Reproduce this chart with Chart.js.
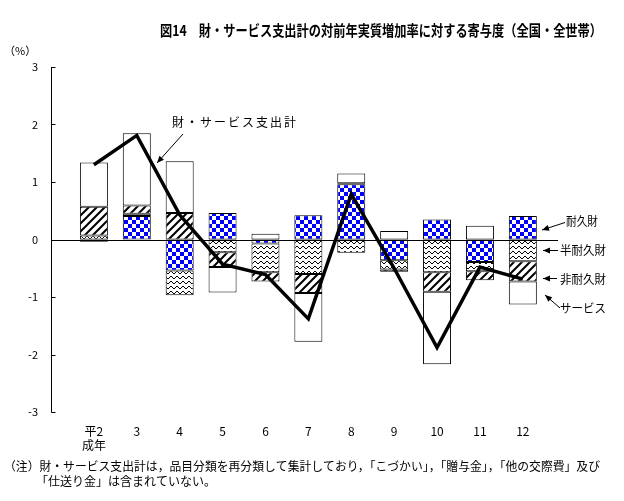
<!DOCTYPE html>
<html><head><meta charset="utf-8">
<script src="https://cdn.jsdelivr.net/npm/chart.js@4/dist/chart.umd.min.js"></script>
<style>html,body{margin:0;padding:0;background:#fff}canvas{display:block}</style>
</head><body>
<canvas id="c" width="624" height="501"></canvas>
<script>
// ---- data ----
const categories = [['平2','成年'],'3','4','5','6','7','8','9','10','11','12'];
const durable    = [-0.04, 0.41, -0.54,  0.46, -0.07,  0.42,  0.96, -0.36,  0.35, -0.39,  0.41]; // 耐久財
const semiDurable= [ 0.07, 0.04, -0.43, -0.22, -0.50, -0.60, -0.23, -0.16, -0.57, -0.16, -0.38]; // 半耐久財
const nonDurable = [ 0.50, 0.14,  0.46, -0.26, -0.16, -0.33,  0.02, -0.04, -0.34, -0.16, -0.35]; // 非耐久財
const services   = [ 0.77, 1.26,  0.90, -0.44,  0.10, -0.85,  0.17,  0.15, -1.26,  0.24, -0.40]; // サービス
const totalLine  = [ 1.30, 1.81,  0.43, -0.43, -0.61, -1.38,  0.79, -0.50, -1.88, -0.48, -0.69]; // 財・サービス支出計
const yTicks = [3,2,1,0,-1,-2,-3];

const JP = '"Noto Sans CJK JP","Noto Sans",sans-serif';

// ---- patterns ----
function mk(w,h,draw){const c=document.createElement('canvas');c.width=w;c.height=h;const x=c.getContext('2d');x.fillStyle='#fff';x.fillRect(0,0,w,h);draw(x);return document.getElementById('c').getContext('2d').createPattern(c,'repeat');}
const checker = mk(8,8,x=>{x.fillStyle='#0000ff';x.fillRect(0,0,4,4);x.fillRect(4,4,4,4);});
const wavy = mk(6,5,x=>{x.fillStyle='#000';[[0,3],[1,2],[2,1],[3,1],[4,2],[5,3]].forEach(p=>x.fillRect(p[0],p[1],1,1));});
const hatch = mk(8,8,x=>{x.strokeStyle='#000';x.lineWidth=2;x.beginPath();x.moveTo(-1,9);x.lineTo(9,-1);x.moveTo(-1,1);x.lineTo(1,-1);x.moveTo(7,9);x.lineTo(9,7);x.stroke();});

const pts = arr => arr.map((v,i)=>({x:i+1,y:v}));
const barDs = (label,arr,bg)=>({type:'bar',label,data:pts(arr),backgroundColor:bg,borderColor:'#000',borderWidth:1,borderSkipped:false,order:2,stack:'s',barPercentage:0.816,categoryPercentage:0.8});

function arrow(ctx,x1,y1,x2,y2){
  ctx.beginPath();ctx.moveTo(x1,y1);ctx.lineTo(x2,y2);ctx.lineWidth=1;ctx.strokeStyle='#000';ctx.stroke();
  const a=Math.atan2(y2-y1,x2-x1),L=7,W=3;
  ctx.beginPath();ctx.moveTo(x2,y2);
  ctx.lineTo(x2-L*Math.cos(a)+W*Math.sin(a),y2-L*Math.sin(a)-W*Math.cos(a));
  ctx.lineTo(x2-L*Math.cos(a)-W*Math.sin(a),y2-L*Math.sin(a)+W*Math.cos(a));
  ctx.closePath();ctx.fillStyle='#000';ctx.fill();
}

const deco = {
  id:'deco',
  afterDraw(chart){
    const {ctx,chartArea:a,scales:{y}}=chart;
    ctx.save();
    ctx.fillStyle='#000';ctx.strokeStyle='#000';ctx.lineWidth=1;
    // zero line
    const y0=Math.round(y.getPixelForValue(0))+0.5;
    ctx.beginPath();ctx.moveTo(a.left,y0);ctx.lineTo(a.right,y0);ctx.stroke();
    // y axis line + inward ticks
    const xl=a.left+0.5;
    const yt=y.getPixelForValue(3), yb=y.getPixelForValue(-3);
    ctx.beginPath();ctx.moveTo(xl,yt);ctx.lineTo(xl,yb+0.5);ctx.stroke();
    yTicks.forEach(v=>{const p=Math.round(y.getPixelForValue(v))+0.5;ctx.beginPath();ctx.moveTo(xl,p);ctx.lineTo(xl+4,p);ctx.stroke();});

    ctx.textBaseline='middle';ctx.textAlign='left';
    ctx.font='bold 15px '+JP;
    ctx.fillText('図14　財・サービス支出計の対前年実質増加率に対する寄与度（全国・全世帯）',160,30,442);
    ctx.font='11px '+JP;
    ctx.fillText('（%）',4,51);
    ctx.font='12px '+JP;
    ctx.letterSpacing='2px';
    ctx.fillText('財・サービス支出計',172,122,126);
    ctx.letterSpacing='0px';
    ctx.fillText('耐久財',566,221,32);
    ctx.fillText('半耐久財',560,250,46);
    ctx.fillText('非耐久財',560,279,46);
    ctx.fillText('サービス',560,308,46);
    ctx.fillText('（注）財・サービス支出計は，品目分類を再分類して集計しており，「こづかい」，「贈与金」，「他の交際費」及び',4,466,596);
    ctx.fillText('「仕送り金」は含まれていない。',36,481);
    arrow(ctx,183,134,157,163);
    arrow(ctx,565,222.5,542,230);
    arrow(ctx,558,250.5,543,250.5);
    arrow(ctx,557,278.5,543,278.5);
    arrow(ctx,560,308,545,295);
    ctx.restore();
  }
};

new Chart(document.getElementById('c'),{
  data:{datasets:[
    {type:'line',label:'財・サービス支出計',data:pts(totalLine),borderColor:'#000',borderWidth:3.5,pointRadius:0,tension:0,fill:false,order:0,borderJoinStyle:'miter'},
    barDs('耐久財',durable,checker),
    barDs('半耐久財',semiDurable,wavy),
    barDs('非耐久財',nonDurable,hatch),
    barDs('サービス',services,'#ffffff')
  ]},
  options:{
    responsive:false,devicePixelRatio:1,animation:false,
    layout:{padding:{top:67,right:66,bottom:0,left:0}},
    plugins:{legend:{display:false},tooltip:{enabled:false},title:{display:false}},
    scales:{
      x:{type:'linear',min:0,max:11.82,stacked:true,offset:false,
        grid:{display:false,drawTicks:false},border:{display:false},
        afterBuildTicks:s=>{s.ticks=categories.map((c,i)=>({value:i+1}));},
        afterFit:s=>{s.height=89;},
        ticks:{autoSkip:false,maxRotation:0,padding:12,color:'#000',font:{family:JP,size:12},callback:v=>categories[v-1]}},
      y:{type:'linear',min:-3,max:3,stacked:true,
        grid:{display:false,drawTicks:false},border:{display:false},
        afterBuildTicks:s=>{s.ticks=yTicks.map(v=>({value:v}));},
        afterFit:s=>{s.width=51;},
        ticks:{padding:13,color:'#000',font:{family:JP,size:11}}}
    }
  },
  plugins:[deco]
});
</script>
</body></html>
